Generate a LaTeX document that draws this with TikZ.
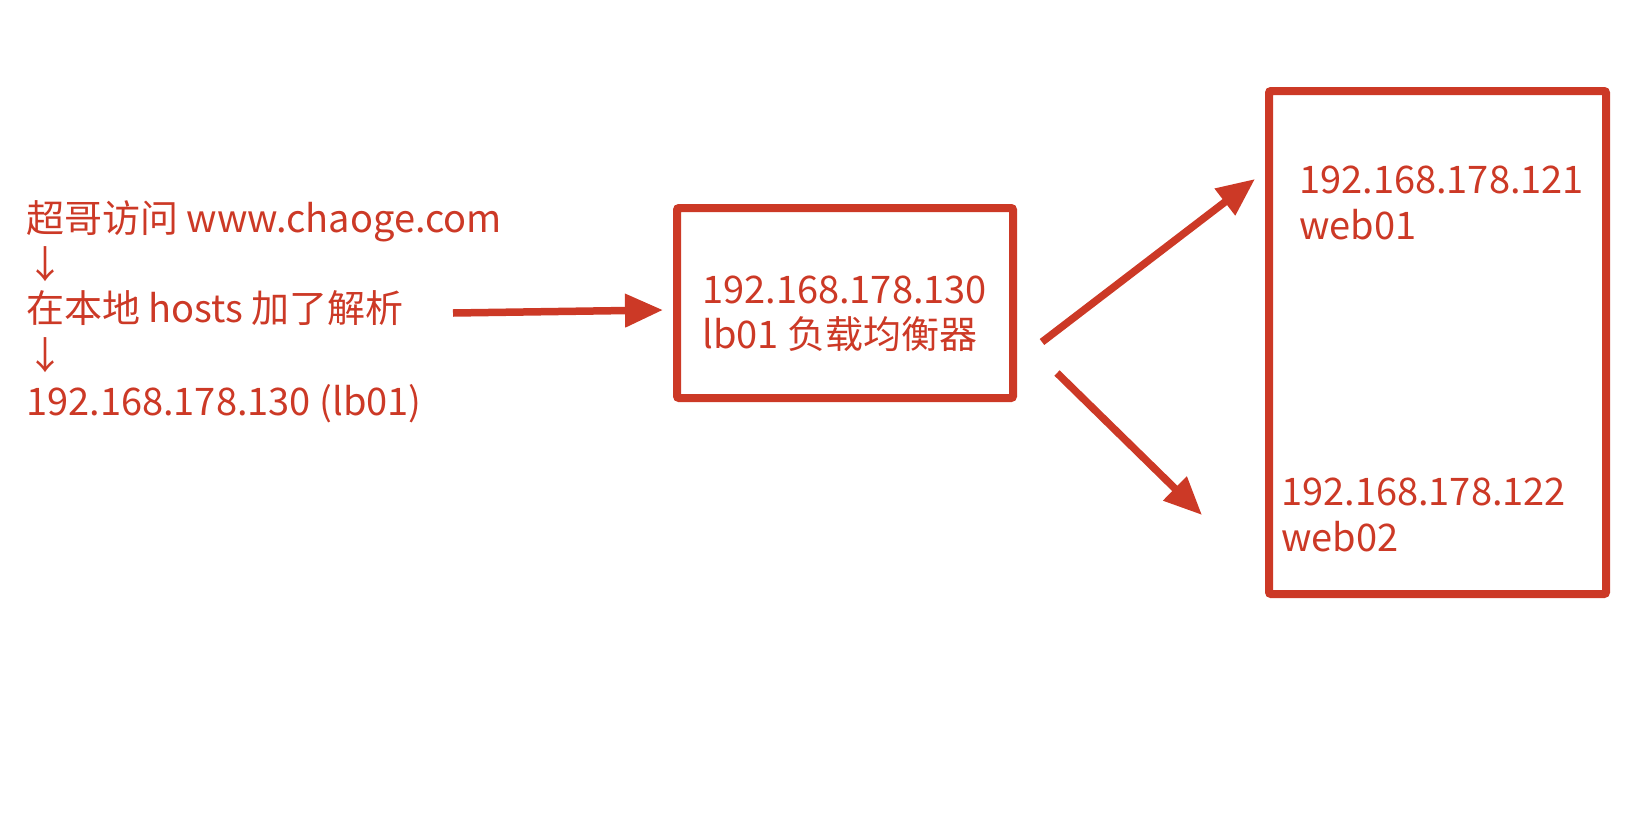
\documentclass[tikz,border=0pt]{standalone}
\usepackage{fontspec}
\setmainfont{Noto Sans CJK SC}
\usetikzlibrary{arrows.meta}
\definecolor{lbred}{RGB}{204,57,38}

\begin{document}
\begin{tikzpicture}
  [x=1pt,y=-1pt,
   every node/.style={text=lbred,font=\fontsize{38}{46}\selectfont,inner sep=0pt},
   txt/.style={anchor=base west},
   frame/.style={draw=lbred,line width=8pt,rounded corners=2pt},
   flow/.style={draw=lbred,line width=7.5pt,-{Triangle[length=38pt,width=32pt]}}]
  \useasboundingbox (0,0) rectangle (1644,814);

  % client side
  \node[txt] (visit) at (26,232) {超哥访问 www.chaoge.com};
  \node[txt] (down1) at (26,278) {↓};
  \node[txt] (hosts) at (26,322) {在本地 hosts 加了解析};
  \node[txt] (down2) at (26,369) {↓};
  \node[txt] (resolve) at (26,415) {192.168.178.130 (lb01)};

  % load balancer
  \node[frame,minimum width=336pt,minimum height=190pt] (lb) at (845,303) {};
  \node[txt] (lbip) at (702,303) {192.168.178.130};
  \node[txt] (lbname) at (702,348) {lb01 负载均衡器};

  % web servers
  \node[frame,minimum width=337pt,minimum height=503pt] (web) at (1437.5,342.5) {};
  \node[txt] (web1ip) at (1299,193) {192.168.178.121};
  \node[txt] (web1) at (1299,239) {web01};
  \node[txt] (web2ip) at (1281,505) {192.168.178.122};
  \node[txt] (web2) at (1281,551) {web02};

  \coordinate (req) at (453,313);
  \coordinate (lbin) at (663,310);
  \coordinate (lbout1) at (1042,342);
  \coordinate (web1in) at (1255,179);
  \coordinate (lbout2) at (1057,373);
  \coordinate (web2in) at (1202,515);

  \draw[flow] (req) -- (lbin);
  \draw[flow] (lbout1) -- (web1in);
  \draw[flow] (lbout2) -- (web2in);

\end{tikzpicture}
\end{document}
